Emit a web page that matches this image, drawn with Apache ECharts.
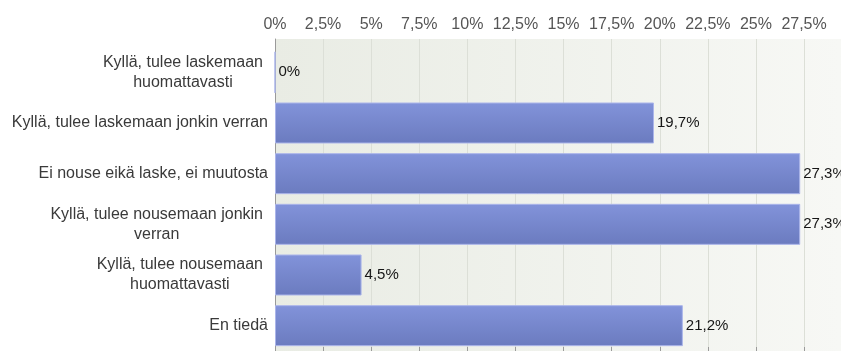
<!DOCTYPE html>
<html>
<head>
<meta charset="utf-8">
<script src="https://cdn.jsdelivr.net/npm/echarts@6/dist/echarts.min.js"></script>
<style>
  html, body { margin: 0; padding: 0; background: #ffffff; }
  #chart { width: 841px; height: 351px; }
</style>
</head>
<body>
<div id="chart"></div>
<script>
// Answer options (top to bottom) and their shares in percent
const categories = [
  'Kyllä, tulee laskemaan\nhuomattavasti',
  'Kyllä, tulee laskemaan jonkin verran',
  'Ei nouse eikä laske, ei muutosta',
  'Kyllä, tulee nousemaan jonkin\nverran',
  'Kyllä, tulee nousemaan\nhuomattavasti',
  'En tiedä'
];
const shares = [0, 19.7, 27.3, 27.3, 4.5, 21.2];
const tickStep = 2.5;
const axisMax = 29.42;

const fmtPct = v => String(v).replace('.', ',') + '%';
const FONT = '"Liberation Sans", Arial, sans-serif';

const chart = echarts.init(document.getElementById('chart'));
chart.setOption({
  animation: false,
  grid: [
    {
      // frame with the shaded plot background and the percent scale
      left: 275, top: 39, right: 0, height: 314,
      show: true, borderWidth: 0,
      backgroundColor: new echarts.graphic.LinearGradient(0, 0, 1, 0, [
        { offset: 0, color: '#e9ece4' },
        { offset: 1, color: '#f7f8f5' }
      ])
    },
    // rows holding the bars
    { left: 275, top: 47, right: 0, height: 306 }
  ],
  xAxis: [
    {
      gridIndex: 0, type: 'value', position: 'top',
      min: 0, max: axisMax, interval: tickStep,
      axisLine: { show: true, lineStyle: { color: '#9a9a9a', width: 1 } },
      axisTick: { show: true, length: 4, lineStyle: { color: '#9a9a9a' } },
      axisLabel: {
        show: true, margin: 6, showMaxLabel: false,
        color: '#555', fontSize: 16, fontFamily: FONT,
        formatter: v => (Math.abs(v / tickStep - Math.round(v / tickStep)) < 1e-6 ? fmtPct(v) : '')
      },
      splitLine: { show: true, lineStyle: { color: '#dcdfd7', width: 1 } }
    },
    {
      gridIndex: 1, type: 'value', min: 0, max: axisMax, show: false
    }
  ],
  yAxis: [
    {
      gridIndex: 0, type: 'value', min: 0, max: 1,
      axisLine: { show: true, lineStyle: { color: '#9a9a9a', width: 1 } },
      axisTick: { show: false }, axisLabel: { show: false }, splitLine: { show: false }
    },
    {
      gridIndex: 1, type: 'category', inverse: true, data: categories,
      axisLine: { show: false }, axisTick: { show: false },
      axisLabel: {
        margin: 7, align: 'right', color: '#3a3a3a',
        fontSize: 16, fontFamily: FONT, lineHeight: 20,
        formatter: v => {
          const lines = v.split('\n');
          const tag = lines.length > 1 ? 'm' : 's';
          return lines.map(l => '{' + tag + '|' + l + '}').join('\n');
        },
        rich: {
          s: { fontSize: 16, fontFamily: FONT, color: '#3a3a3a', lineHeight: 20 },
          m: { fontSize: 16, fontFamily: FONT, color: '#3a3a3a', lineHeight: 20,
               align: 'center', padding: [0, 5, 0, 0] }
        }
      }
    }
  ],
  series: [{
    type: 'bar',
    xAxisIndex: 1, yAxisIndex: 1,
    data: shares,
    barWidth: 41,
    itemStyle: {
      color: new echarts.graphic.LinearGradient(0, 0, 0, 1, [
        { offset: 0, color: '#8293da' },
        { offset: 1, color: '#6b7bbf' }
      ]),
      borderColor: '#abb5ea', borderWidth: 1
    },
    label: {
      show: true, position: 'right', distance: 3,
      color: '#161616', fontSize: 15, fontFamily: FONT,
      formatter: p => fmtPct(p.value)
    }
  }]
});
</script>
</body>
</html>
